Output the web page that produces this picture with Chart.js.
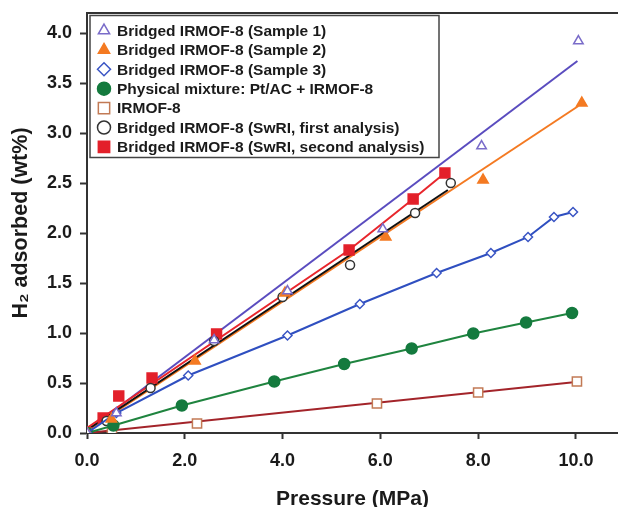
<!DOCTYPE html>
<html lang="en">
<head>
<meta charset="UTF-8">
<title>H2 adsorption on bridged IRMOF-8</title>
<script src="https://cdn.jsdelivr.net/npm/chart.js"></script>
<style>
  html, body { margin: 0; padding: 0; background: #fff; overflow: hidden; }
  canvas { display: block; }
</style>
</head>
<body>
<canvas id="adsChart" width="618" height="507"></canvas>
<script>
// axis ticks
const xTicks = [0, 2, 4, 6, 8, 10];
const yTicks = [0, 0.5, 1, 1.5, 2, 2.5, 3, 3.5, 4];

// Bridged IRMOF-8 (Sample 1)
const s1X = [0, 0.6, 2.6, 4.1, 6.05, 8.07, 10.05];
const s1Y = [0, 0.2, 0.93, 1.42, 2.04, 2.87, 3.92];
const s1LineX = [0, 10.03];
const s1LineY = [0.02, 3.72];

// Bridged IRMOF-8 (Sample 2)
const s2X = [0, 0.5, 2.21, 4.05, 6.11, 8.1, 10.12];
const s2Y = [0, 0.14, 0.72, 1.4, 1.96, 2.53, 3.3];
const s2LineX = [0, 10.05];
const s2LineY = [0.02, 3.27];

// Bridged IRMOF-8 (Sample 3)
const s3X = [0, 0.6, 2.07, 4.1, 5.58, 7.15, 8.26, 9.02, 9.55, 9.94];
const s3Y = [0, 0.2, 0.575, 0.975, 1.29, 1.6, 1.8, 1.96, 2.16, 2.21];

// Physical mixture: Pt/AC + IRMOF-8
const mixX = [0, 0.54, 1.94, 3.83, 5.26, 6.64, 7.9, 8.98, 9.92];
const mixY = [0, 0.075, 0.275, 0.515, 0.69, 0.845, 0.995, 1.105, 1.2];

// IRMOF-8
const irX = [0, 0.51, 2.25, 5.93, 8.0, 10.02];
const irY = [0, 0.0, 0.095, 0.295, 0.405, 0.515];
const irLineX = [0, 10.0];
const irLineY = [0, 0.51];

// Bridged IRMOF-8 (SwRI, first analysis)
const sw1X = [0, 0.4, 1.3, 2.6, 4.0, 5.38, 6.71, 7.44];
const sw1Y = [0, 0.12, 0.45, 0.92, 1.36, 1.68, 2.2, 2.5];
const sw1LineX = [0, 7.38];
const sw1LineY = [0.03, 2.43];

// Bridged IRMOF-8 (SwRI, second analysis)
const sw2X = [0, 0.33, 0.65, 1.33, 2.65, 5.36, 6.67, 7.32];
const sw2Y = [0, 0.15, 0.37, 0.55, 0.99, 1.83, 2.34, 2.6];
const sw2LineX = [0, 5.36, 6.67, 7.32];
const sw2LineY = [0.05, 1.83, 2.34, 2.6];

const pts = (xs, ys) => xs.map((x, i) => ({ x: x, y: ys[i] }));

function markers(label, xs, ys, style, radius, fill, stroke, joined, lineColor) {
    return {
        label: label,
        data: pts(xs, ys),
        showLine: !!joined,
        borderColor: joined ? lineColor : stroke,
        borderWidth: 2,
        pointStyle: style,
        pointRadius: radius,
        pointBorderWidth: 1.5,
        pointBackgroundColor: fill,
        pointBorderColor: stroke,
        inLegend: true
    };
}

function fitLine(xs, ys, color) {
    return {
        label: '',
        data: pts(xs, ys),
        showLine: true,
        borderColor: color,
        borderWidth: 2,
        pointRadius: 0,
        inLegend: false
    };
}

const datasets = [
    markers('Bridged IRMOF-8 (Sample 1)', s1X, s1Y, 'triangle', 5.5, '#fff', '#7a6cc9'),
    markers('Bridged IRMOF-8 (Sample 2)', s2X, s2Y, 'triangle', 6, '#f47a22', '#f47a22'),
    markers('Bridged IRMOF-8 (Sample 3)', s3X, s3Y, 'rectRot', 4.5, '#fff', '#3a55c4', true, '#2f4fc0'),
    markers('Physical mixture: Pt/AC + IRMOF-8', mixX, mixY, 'circle', 5.5, '#147a3e', '#147a3e', true, '#1f843f'),
    markers('IRMOF-8', irX, irY, 'rect', 6.5, '#fff', '#c27a55'),
    markers('Bridged IRMOF-8 (SwRI, first analysis)', sw1X, sw1Y, 'circle', 4.5, '#fff', '#333'),
    markers('Bridged IRMOF-8 (SwRI, second analysis)', sw2X, sw2Y, 'rect', 7, '#e3202a', '#e3202a'),
    fitLine(sw2LineX, sw2LineY, '#e8262c'),
    fitLine(sw1LineX, sw1LineY, '#111'),
    fitLine(s2LineX, s2LineY, '#f47a22'),
    fitLine(s1LineX, s1LineY, '#5a4cbf'),
    fitLine(irLineX, irLineY, '#a3242a')
];

// legend box drawn inside the plot area, top-left
const boxLegend = {
    id: 'boxLegend',
    afterDraw(chart) {
        const ctx = chart.ctx;
        const area = chart.chartArea;
        const left = area.left + 3, top = area.top + 2.5;
        const w = 349, h = 142;
        ctx.save();
        ctx.fillStyle = '#fff';
        ctx.fillRect(left, top, w, h);
        ctx.strokeStyle = '#444';
        ctx.lineWidth = 1.5;
        ctx.strokeRect(left, top, w, h);
        ctx.font = 'bold 15.5px "Liberation Sans", Arial, sans-serif';
        ctx.textBaseline = 'middle';
        let y = top + 15;
        chart.data.datasets.filter(d => d.inLegend).forEach(d => {
            ctx.fillStyle = d.pointBackgroundColor;
            ctx.strokeStyle = d.pointBorderColor;
            ctx.lineWidth = 1.5;
            Chart.helpers.drawPoint(ctx, {
                pointStyle: d.pointStyle,
                radius: d.pointStyle === 'rect' ? 8 : 6.5,
                borderWidth: 1.5,
                rotation: 0
            }, area.left + 17, y);
            ctx.fillStyle = '#1a1a1a';
            ctx.fillText(d.label, area.left + 30, y + 1);
            y += 19.4;
        });
        ctx.restore();
    }
};

const tickFont = { family: '"Liberation Sans", Arial, sans-serif', size: 18, weight: 'bold' };
const xTitleFont = { family: '"Liberation Sans", Arial, sans-serif', size: 21, weight: 'bold' };
const yTitleFont = { family: '"Liberation Sans", Arial, sans-serif', size: 21.5, weight: 'bold' };

new Chart(document.getElementById('adsChart'), {
    type: 'scatter',
    data: { datasets: datasets },
    plugins: [boxLegend],
    options: {
        responsive: false,
        animation: false,
        layout: { padding: 0, autoPadding: false },
        plugins: {
            legend: { display: false },
            tooltip: { enabled: false }
        },
        scales: {
            x: {
                type: 'linear',
                position: 'bottom',
                min: 0,
                max: 10.86,
                afterBuildTicks: axis => { axis.ticks = xTicks.map(v => ({ value: v })); },
                afterFit: axis => { axis.height = 74; axis.paddingLeft = 0; axis.paddingRight = 0; },
                ticks: {
                    callback: v => v.toFixed(1),
                    font: tickFont,
                    color: '#1a1a1a',
                    padding: 11,
                    maxRotation: 0
                },
                grid: { drawOnChartArea: false, drawTicks: true, tickLength: 6, tickColor: '#333', tickWidth: 2 },
                border: { color: '#333', width: 2 },
                title: { display: true, text: 'Pressure (MPa)', font: xTitleFont, color: '#1a1a1a', padding: { top: 0, bottom: -5 } }
            },
            x2: {
                type: 'linear',
                axis: 'x',
                position: 'top',
                min: 0,
                max: 10.86,
                ticks: { display: false },
                grid: { display: false },
                border: { color: '#333', width: 2 },
                afterFit: axis => { axis.height = 13; axis.paddingLeft = 0; axis.paddingRight = 0; }
            },
            y: {
                type: 'linear',
                min: 0,
                max: 4.2,
                afterBuildTicks: axis => { axis.ticks = yTicks.map(v => ({ value: v })); },
                afterFit: axis => { axis.width = 87; axis.paddingTop = 0; axis.paddingBottom = 0; },
                ticks: {
                    callback: v => v.toFixed(1),
                    font: tickFont,
                    color: '#1a1a1a',
                    padding: 8
                },
                grid: { drawOnChartArea: false, drawTicks: true, tickLength: 7, tickColor: '#333', tickWidth: 2 },
                border: { color: '#333', width: 2 },
                title: { display: true, text: 'H₂ adsorbed (wt%)', font: yTitleFont, color: '#1a1a1a', padding: { top: 8, bottom: 0 } }
            }
        }
    }
});
</script>
</body>
</html>
